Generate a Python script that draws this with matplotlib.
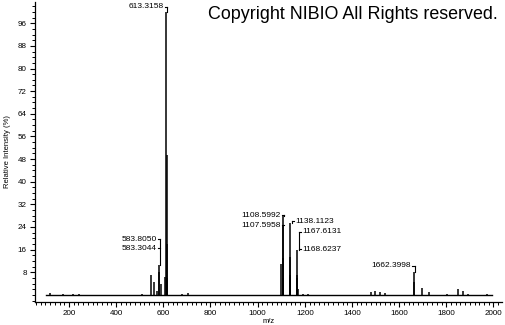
import matplotlib
matplotlib.use("Agg")
import matplotlib.pyplot as plt
from matplotlib.ticker import MultipleLocator
import numpy as np

plt.rcParams['font.family'] = ['Liberation Sans', 'DejaVu Sans']

# Peak list (m/z, relative intensity %)
peak_mz = [119.5, 176, 218, 242, 511, 549.0, 558.5, 573.0, 583.30, 583.80, 591.0,
           605.5, 613.32, 613.82, 614.32, 614.82, 680, 703,
           1101.0, 1106.6, 1107.60, 1108.60, 1109.6, 1136.6, 1137.6, 1138.11, 1138.6, 1139.1,
           1165.6, 1167.61, 1168.62, 1169.6, 1193, 1213,
           1479, 1498, 1518, 1540, 1662.40, 1663.4, 1698, 1727, 1801, 1850, 1871, 1890, 1973]
peak_int = [0.8, 0.4, 0.4, 0.4, 0.5, 7.0, 4.7, 1.5, 10.5, 8.0, 4.0,
            6.4, 100.0, 49.5, 18.0, 6.0, 0.5, 0.7,
            11.0, 13.0, 24.5, 28.0, 6.0, 7.0, 13.5, 25.5, 6.5, 2.0,
            6.0, 15.8, 7.0, 2.0, 0.5, 0.5,
            1.2, 1.5, 1.2, 0.8, 8.2, 4.5, 2.3, 1.2, 0.5, 2.0, 1.5, 0.5, 0.5]

baseline_range = [103, 1995]

# Annotations: (label, peak m/z, peak height, label height, side)
ann_text = ["613.3158", "583.8050", "583.3044", "1108.5992", "1107.5958",
            "1138.1123", "1167.6131", "1168.6237", "1662.3998"]
ann_mz = [613.32, 583.80, 583.80, 1108.60, 1108.60, 1138.11, 1167.61, 1167.61, 1662.40]
ann_peak = [100.0, 10.5, 10.5, 28.0, 28.0, 25.5, 15.8, 15.8, 8.2]
ann_y = [101.8, 19.7, 16.5, 28.2, 24.6, 26.0, 22.4, 16.2, 10.3]
ann_side = ["L", "L", "L", "L", "L", "R", "R", "R", "L"]
ann_top = [True, True, False, True, False, True, True, False, True]

fig = plt.figure(figsize=(5.05, 3.25), dpi=100)
ax = fig.add_axes([0.0693, 0.0708, 0.9247, 0.923])

# baseline + sticks
ax.plot(baseline_range, [0, 0], color='black', lw=1.0)
ax.vlines(peak_mz, 0, peak_int, color='black', lw=1.1)

# annotations with leaders
for t, mz, ph, ly, side, top in zip(ann_text, ann_mz, ann_peak, ann_y, ann_side, ann_top):
    xl = mz + (3 if side == "L" else 8)
    if top:
        ax.plot([xl, xl], [ly, ph], color='black', lw=0.8)
    if side == "L":
        ax.plot([xl - 9, xl], [ly, ly], color='black', lw=0.8)
        ax.text(xl - 14, ly, t, ha='right', va='center', fontsize=6)
    else:
        ax.plot([xl, xl + 9], [ly, ly], color='black', lw=0.8)
        ax.text(xl + 12, ly, t, ha='left', va='center', fontsize=6)

ax.set_xlim(56, 2036)
ax.set_ylim(-2.5, 103.5)

ax.spines['top'].set_visible(False)
ax.spines['right'].set_visible(False)
ax.spines['left'].set_linewidth(0.9)
ax.spines['bottom'].set_linewidth(0.9)

ax.set_xticks([200, 400, 600, 800, 1000, 1200, 1400, 1600, 1800, 2000])
ax.xaxis.set_minor_locator(MultipleLocator(20))
ax.set_yticks([8, 16, 24, 32, 40, 48, 56, 64, 72, 80, 88, 96])
ax.yaxis.set_minor_locator(MultipleLocator(2))
ax.tick_params(axis='both', which='major', labelsize=5.8, length=3.5, width=0.8, pad=2.5)
ax.tick_params(axis='both', which='minor', length=2, width=0.7)

ax.set_xlabel("m/z", fontsize=5.5, labelpad=0.5)
ax.set_ylabel("Relative Intensity (%)", fontsize=5.5, labelpad=5)

fig.text(0.985, 0.955, "Copyright NIBIO All Rights reserved.", ha='right', va='center',
         fontsize=12.9)

fig.savefig("out.png", dpi=100)
